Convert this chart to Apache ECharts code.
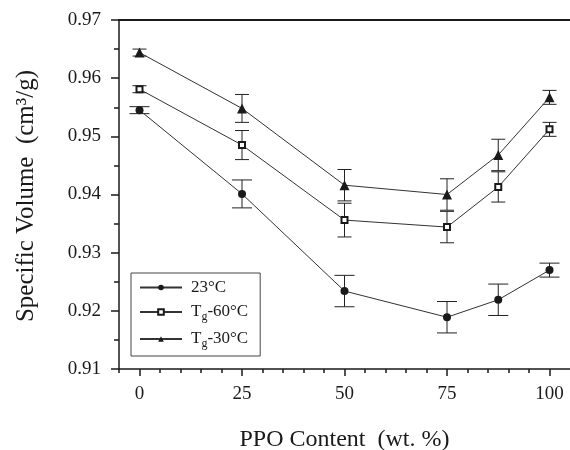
<!DOCTYPE html>
<html><head><meta charset="utf-8">
<script src="https://cdn.jsdelivr.net/npm/echarts@6/dist/echarts.min.js"></script>
<style>html,body{margin:0;padding:0;background:#fff}#c{width:570px;height:450px}</style>
</head><body><div id="c"></div>
<script>
const ppo = [0, 25, 50, 75, 87.5, 100];
const names = ['23°C', 'Tg-60°C', 'Tg-30°C'];
const v23 = [0.9545, 0.9401, 0.9234, 0.9189, 0.9219, 0.9270];
const e23 = [0.0006, 0.0024, 0.0027, 0.0027, 0.0027, 0.0012];
const v60 = [0.9581, 0.9485, 0.9356, 0.9344, 0.9413, 0.9512];
const e60 = [0.0006, 0.0025, 0.0029, 0.0027, 0.0026, 0.0012];
const v30 = [0.9644, 0.9548, 0.9416, 0.9400, 0.9468, 0.9567];
const e30 = [0.0006, 0.0024, 0.0027, 0.0027, 0.0027, 0.0012];
const xMajor = [0, 25, 50, 75, 100];
const xMinor = [-5, 5, 10, 15, 20, 30, 35, 40, 45, 55, 60, 65, 70, 80, 85, 90, 95];

const FONT = 'Liberation Serif';
const INK = '#1a1a1a';

function errSeries(vals, errs, half) {
  return {
    type: 'custom', silent: true, z: 1,
    encode: { x: 0, y: [1, 2] },
    data: ppo.map((x, i) => [x, vals[i] - errs[i], vals[i] + errs[i]]),
    renderItem(params, api) {
      const x = api.value(0);
      const lo = api.coord([x, api.value(1)]);
      const hi = api.coord([x, api.value(2)]);
      const st = { stroke: '#222', lineWidth: 1 };
      return { type: 'group', children: [
        { type: 'line', shape: { x1: lo[0], y1: lo[1], x2: hi[0], y2: hi[1] }, style: st },
        { type: 'line', shape: { x1: lo[0] - half, y1: lo[1], x2: lo[0] + half, y2: lo[1] }, style: st },
        { type: 'line', shape: { x1: hi[0] - half, y1: hi[1], x2: hi[0] + half, y2: hi[1] }, style: st }
      ] };
    }
  };
}
function lineSeries(name, vals, symbol, size) {
  return {
    type: 'line', name: name, z: 3,
    data: ppo.map((x, i) => [x, vals[i]]),
    symbol: symbol, symbolSize: size,
    lineStyle: { color: '#333', width: 1 },
    itemStyle: { color: INK, borderWidth: 1 },
    emphasis: { disabled: true }
  };
}

const chart = echarts.init(document.getElementById('c'), null, { renderer: 'canvas' });
chart.setOption({
  animation: false,
  backgroundColor: '#fff',
  textStyle: { fontFamily: FONT },
  grid: { left: 119, right: 0, top: 20, bottom: 81, outerBoundsMode: 'none', containLabel: false },
  xAxis: [{
    type: 'value', min: -5, max: 105, position: 'bottom',
    name: 'PPO Content  (wt. %)', nameLocation: 'middle', nameGap: 59,
    nameTextStyle: { fontFamily: FONT, fontSize: 24, color: INK },
    axisLine: { show: true, onZero: false, lineStyle: { color: INK, width: 1.5 } },
    axisTick: { show: true, customValues: xMajor, length: 7, lineStyle: { color: INK, width: 1.5 } },
    axisLabel: { customValues: xMajor, fontFamily: FONT, fontSize: 19, color: INK, margin: 16 },
    splitLine: { show: false }
  }, {
    type: 'value', min: -5, max: 105, position: 'bottom', gridIndex: 0,
    axisLine: { show: false },
    axisTick: { show: true, customValues: xMinor, length: 4, lineStyle: { color: INK, width: 1.5 } },
    axisLabel: { show: false }, splitLine: { show: false }
  }, {
    type: 'value', min: -5, max: 105, position: 'top', gridIndex: 0,
    axisLine: { show: true, onZero: false, lineStyle: { color: INK, width: 2 } },
    axisTick: { show: false }, axisLabel: { show: false }, splitLine: { show: false }
  }],
  yAxis: {
    type: 'value', min: 0.91, max: 0.97, interval: 0.01,
    axisLine: { show: true, onZero: false, lineStyle: { color: INK, width: 1.5 } },
    axisTick: { show: true, length: 8, lineStyle: { color: INK, width: 1.5 } },
    minorTick: { show: true, splitNumber: 2, length: 5, lineStyle: { color: INK, width: 1.5 } },
    axisLabel: { fontFamily: FONT, fontSize: 19, color: INK, margin: 18, formatter: v => v.toFixed(2) },
    splitLine: { show: false }
  },
  legend: {
    orient: 'vertical', left: 131, top: 273,
    data: names,
    padding: [6, 12, 6, 8], itemGap: 5,
    itemWidth: 42, itemHeight: 7,
    borderColor: '#444', borderWidth: 1,
    selectedMode: false,
    formatter: name => name.startsWith('Tg') ? '{n|T}{s|g}{n|' + name.slice(2) + '}' : '{n|' + name + '}',
    textStyle: {
      padding: [0, 0, 0, 4],
      rich: {
        n: { fontFamily: FONT, fontSize: 17, color: INK, lineHeight: 20, verticalAlign: 'middle' },
        s: { fontFamily: FONT, fontSize: 12, color: INK, lineHeight: 12, padding: [10, 0, 0, 0], verticalAlign: 'middle' }
      }
    }
  },
  graphic: [{
    type: 'text', z: 10,
    rotation: Math.PI / 2,
    x: 26, y: 196,
    style: { text: 'Specific Volume  (cm³/g)', font: '25px "Liberation Serif"', fill: INK, textAlign: 'center', textVerticalAlign: 'middle' }
  }],
  series: [
    errSeries(v23, e23, 10),
    errSeries(v60, e60, 7),
    errSeries(v30, e30, 7),
    lineSeries(names[0], v23, 'circle', 8),
    lineSeries(names[1], v60, 'emptyRect', 6),
    lineSeries(names[2], v30, 'triangle', 10)
  ]
});
</script></body></html>
